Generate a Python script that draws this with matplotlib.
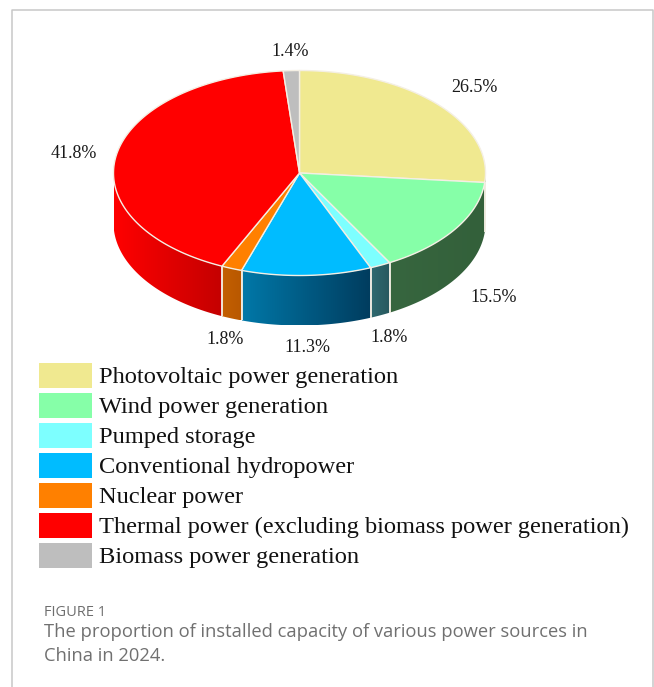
import numpy as np
import matplotlib
matplotlib.use("Agg")
import matplotlib.pyplot as plt
from matplotlib.colors import LinearSegmentedColormap
from matplotlib.patches import PathPatch, Polygon, Rectangle
from matplotlib.path import Path

W, H = 654, 687

# Installed capacity shares, clockwise from twelve o'clock
sources = [
    "Photovoltaic power generation",
    "Wind power generation",
    "Pumped storage",
    "Conventional hydropower",
    "Nuclear power",
    "Thermal power (excluding biomass power generation)",
    "Biomass power generation",
]
shares = [26.5, 15.5, 1.8, 11.3, 1.8, 41.8, 1.4]
share_labels = ["26.5%", "15.5%", "1.8%", "11.3%", "1.8%", "41.8%", "1.4%"]
top_colors = ["#F0E990", "#86FFA8", "#7DFFFF", "#00BCFF", "#FF8000", "#FF0000", "#BEBEBE"]
# Rim colours run from the left end of each visible wall to its right end
rim_left = ["#8C8650", "#37663F", "#2F6A70", "#0078A8", "#C45F00", "#FF0000", "#777777"]
rim_right = ["#8C8650", "#33603A", "#28585E", "#003C5E", "#B85800", "#C40000", "#777777"]
label_xy = [(474, 88), (494, 297), (389, 337), (307, 348), (225, 340), (74, 154), (290, 51)]

CX, CY, RX, RY, DEPTH = 299.5, 173.0, 186.0, 102.5, 50.0
EDGE = "#F4EFE4"

fig = plt.figure(figsize=(W / 100, H / 100), dpi=100, facecolor="white")
ax = fig.add_axes([0, 0, 1, 1])
ax.set_xlim(0, W)
ax.set_ylim(H, 0)
ax.axis("off")


def rim_point(theta, drop=0.0):
    """Ellipse point for a clockwise angle measured from the top of the pie."""
    return CX + RX * np.sin(theta), CY - RY * np.cos(theta) + drop


fractions = np.array(shares) / sum(shares)
bounds = np.concatenate([[0], np.cumsum(fractions)]) * 2 * np.pi

# Card outline
ax.plot([12, 12, 653, 653], [H, 10, 10, H], color="#C8C8C8", lw=1.1, zorder=0)

# Visible side walls: only the front half of the ellipse shows
for i in range(len(shares)):
    a0 = max(bounds[i], np.pi / 2)
    a1 = min(bounds[i + 1], 3 * np.pi / 2)
    if a1 <= a0:
        continue
    t = np.linspace(a0, a1, 80)
    x_top, y_top = rim_point(t)
    x_bot, y_bot = rim_point(t, DEPTH)
    verts = np.column_stack([np.r_[x_top, x_bot[::-1]], np.r_[y_top, y_bot[::-1]]])
    x_lo, x_hi = verts[:, 0].min(), verts[:, 0].max()
    cmap = LinearSegmentedColormap.from_list("wall", [rim_left[i], rim_right[i]])
    gradient = np.linspace(0, 1, 256)[None, :]
    img = ax.imshow(gradient, cmap=cmap, extent=(x_lo, x_hi, verts[:, 1].max(), verts[:, 1].min()),
                    aspect="auto", zorder=2, interpolation="bilinear")
    img.set_clip_path(Polygon(verts, closed=True, transform=ax.transData))
    # Pale seam where two walls meet
    for a in (a0, a1):
        if np.pi / 2 < a < 3 * np.pi / 2:
            xe, ye = rim_point(a)
            ax.plot([xe, xe], [ye, ye + DEPTH], color=EDGE, lw=1.3, alpha=0.8, zorder=3,
                    solid_capstyle="butt")

ax.set_xlim(0, W)
ax.set_ylim(H, 0)

# Top face
for i, colour in enumerate(top_colors):
    t = np.linspace(bounds[i], bounds[i + 1], 200)
    x, y = rim_point(t)
    verts = np.column_stack([np.r_[CX, x, CX], np.r_[CY, y, CY]])
    codes = [Path.MOVETO] + [Path.LINETO] * (len(verts) - 2) + [Path.CLOSEPOLY]
    ax.add_patch(PathPatch(Path(verts, codes), facecolor=colour, edgecolor=EDGE, lw=1.0,
                           joinstyle="round", zorder=4))

# Percentage labels
for text, (x, y) in zip(share_labels, label_xy):
    ax.text(x, y, text, family="Liberation Serif", fontsize=13.0, color="#1A1A1A",
            ha="center", va="center", zorder=5)

# Legend
for i, (name, colour) in enumerate(zip(sources, top_colors)):
    top = 363 + 30 * i
    ax.add_patch(Rectangle((39, top), 52.5, 25, facecolor=colour, edgecolor="none", zorder=4))
    ax.text(99, top + 14, name, family="Liberation Serif", fontsize=17.55, color="#111111",
            ha="left", va="center", zorder=5)

# Caption
ax.text(44, 612, "FIGURE 1", family="Open Sans", fontsize=10.5, color="#6E6E6E",
        ha="left", va="center", fontweight="medium")
ax.text(44, 632, "The proportion of installed capacity of various power sources in",
        family="Open Sans", fontsize=13.25, color="#707070", ha="left", va="center")
ax.text(44, 656, "China in 2024.", family="Open Sans", fontsize=13.25, color="#707070",
        ha="left", va="center")

fig.savefig("out.png", dpi=100, facecolor="white")
